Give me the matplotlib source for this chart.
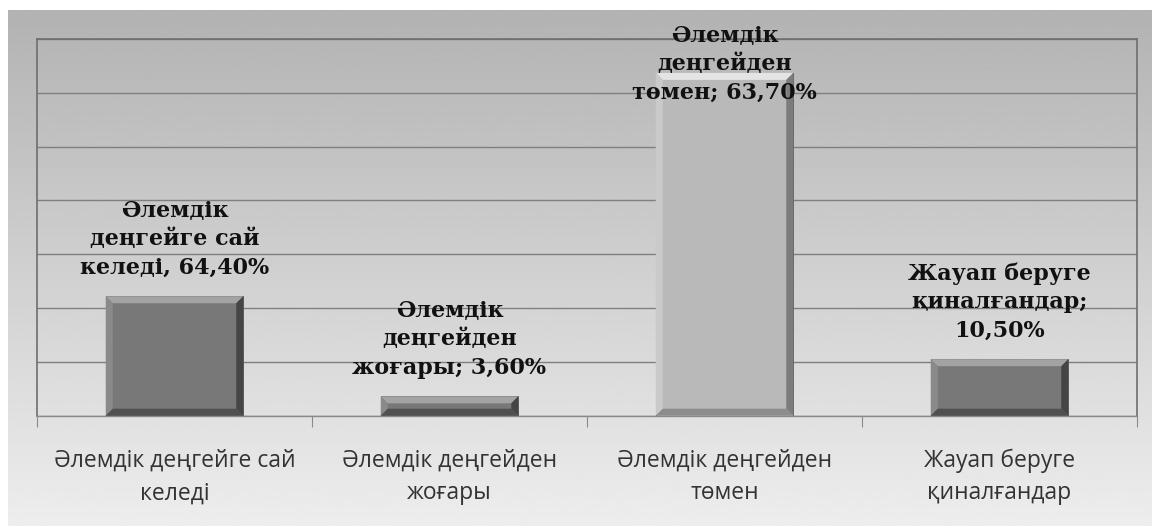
import matplotlib
matplotlib.use("Agg")
import matplotlib.pyplot as plt
import matplotlib.patches as patches
import numpy as np

# Категории и значения (высоты столбцов)
categories = ["Әлемдік деңгейге сай\nкеледі", "Әлемдік деңгейден\nжоғары",
              "Әлемдік деңгейден\nтөмен", "Жауап беруге\nқиналғандар"]
values = [22.2, 3.6, 63.7, 10.5]
data_labels = ["Әлемдік\nдеңгейге сай\nкеледі, 64,40%",
               "Әлемдік\nдеңгейден\nжоғары; 3,60%",
               "Әлемдік\nдеңгейден\nтөмен; 63,70%",
               "Жауап беруге\nқиналғандар;\n10,50%"]
y_ticks = [0, 10, 20, 30, 40, 50, 60, 70]

# Цвета столбцов: (лицо, верх, лево, право, низ)
DARK = ("#787878", "#a3a3a3", "#8a8a8a", "#454545", "#505050")
LIGHT = ("#b9b9b9", "#e4e4e4", "#cacaca", "#7c7c7c", "#8c8c8c")
bar_styles = [DARK, DARK, LIGHT, DARK]

W, H = 1152, 526
fig = plt.figure(figsize=(W / 100, H / 100), dpi=100)
fig.patch.set_facecolor("white")

# Фон с вертикальным градиентом
bg = fig.add_axes([8 / W, 0, 1 - 8 / W, (H - 10) / H], zorder=-5)
grad = np.linspace(0.70, 0.93, 256).reshape(-1, 1)
bg.imshow(grad, aspect="auto", cmap="gray", vmin=0, vmax=1,
          extent=[0, 1, 1, 0])
bg.set_axis_off()

ax = fig.add_axes([37 / W, (H - 415.7) / H, 1100 / W, (415.7 - 39) / H])
ax.set_facecolor("none")

x = np.arange(len(values))
bar_w = 0.5
bars = ax.bar(x, values, width=bar_w, color=[s[0] for s in bar_styles],
              edgecolor="#555555", linewidth=0.6, zorder=3)

ax.set_xlim(-0.5, len(values) - 0.5)
ax.set_ylim(0, 70)

# Фаска у столбцов (отступ в пикселях переводится в единицы данных)
inset_px = 7
dx = inset_px * (ax.get_xlim()[1] - ax.get_xlim()[0]) / 1100
dy = inset_px * (ax.get_ylim()[1] - ax.get_ylim()[0]) / (415.7 - 39)
for b, st in zip(bars, bar_styles):
    x0, x1 = b.get_x(), b.get_x() + b.get_width()
    y0, y1 = 0, b.get_height()
    d_y = min(dy, (y1 - y0) / 2.2)
    faces = [
        ([(x0, y1), (x1, y1), (x1 - dx, y1 - d_y), (x0 + dx, y1 - d_y)], st[1]),
        ([(x0, y0), (x0, y1), (x0 + dx, y1 - d_y), (x0 + dx, y0 + d_y)], st[2]),
        ([(x1, y0), (x1, y1), (x1 - dx, y1 - d_y), (x1 - dx, y0 + d_y)], st[3]),
        ([(x0, y0), (x1, y0), (x1 - dx, y0 + d_y), (x0 + dx, y0 + d_y)], st[4]),
    ]
    for pts, c in faces:
        ax.add_patch(patches.Polygon(pts, closed=True, facecolor=c,
                                     edgecolor="none", zorder=4))

# Сетка и оси
ax.set_yticks(y_ticks)
ax.yaxis.grid(True, color="#7f7f7f", linewidth=1.0, zorder=1)
ax.set_axisbelow(True)
ax.tick_params(axis="y", left=False, labelleft=False)

ax.set_xticks(np.arange(len(values) + 1) - 0.5)
ax.tick_params(axis="x", which="major", length=8, color="#8a8a8a",
               labelbottom=False)
ax.set_xticks(x, minor=True)
ax.set_xticklabels(categories, minor=True, fontsize=16.5, color="#333333",
                   family=["Open Sans", "DejaVu Sans"], linespacing=1.45)
ax.tick_params(axis="x", which="minor", length=0, pad=24)

for side in ("left", "top", "right"):
    ax.spines[side].set_color("#6e6e6e")
    ax.spines[side].set_linewidth(1.2)
ax.spines["bottom"].set_color("#8a8a8a")
ax.spines["bottom"].set_linewidth(1.0)

# Подписи данных
for i, (v, lab) in enumerate(zip(values, data_labels)):
    y_txt = min(v + 3.3, 58.0)
    ax.text(i, y_txt, lab, ha="center", va="bottom", fontsize=16,
            fontweight="bold", color="#111111", linespacing=1.38,
            family=["DejaVu Serif", "Liberation Serif"], zorder=6)

fig.savefig("out.png", dpi=100)
